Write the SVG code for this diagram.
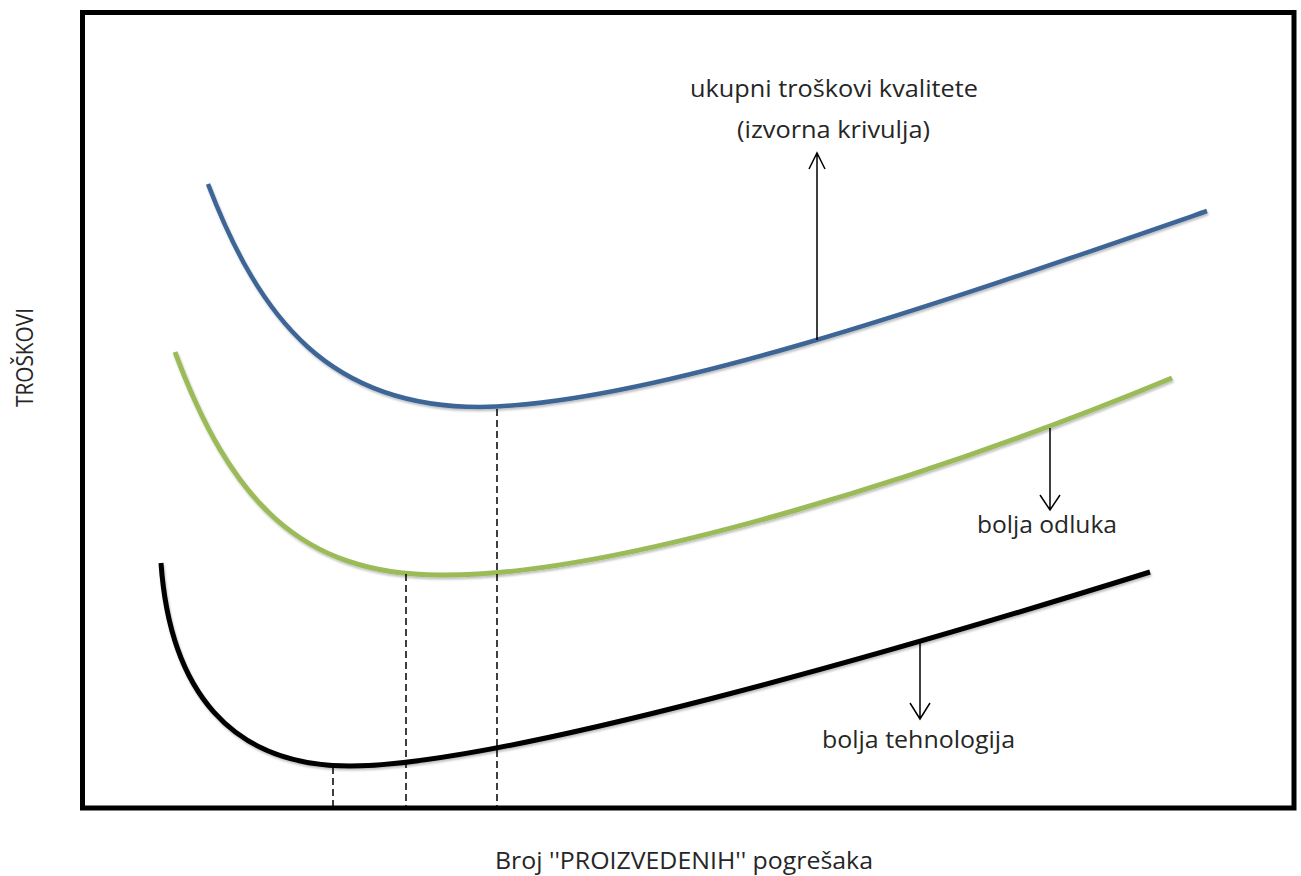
<svg xmlns="http://www.w3.org/2000/svg" width="1301" height="876" viewBox="0 0 1301 876">
<style>
.t{font-family:"Open Sans","Liberation Sans",sans-serif;font-size:23.5px;fill:#262626}
.dash{stroke:#000;stroke-width:1.5;stroke-dasharray:7 4;fill:none}
.arr{stroke:#000;stroke-width:1.5;fill:none}
.crv{fill:none;stroke-linecap:butt}
</style>
<defs>
<filter id="sh" x="-5%" y="-5%" width="110%" height="115%">
<feDropShadow dx="1" dy="2" stdDeviation="1.2" flood-color="#000" flood-opacity="0.25"/>
</filter>
</defs>
<rect width="1301" height="876" fill="#fff"/>
<g id="frame">
<rect x="82.5" y="12.5" width="1211.5" height="795.5" fill="none" stroke="#000" stroke-width="5"/>
</g>
<g id="curve-blue">
<path class="crv" filter="url(#sh)" stroke="#3c6595" stroke-width="4.5" d="M208,184 C260,320 330,407 480,407 C650,405 950,300 1207,211"/>
</g>
<g id="curve-green">
<path class="crv" filter="url(#sh)" stroke="#9bbb59" stroke-width="5" d="M175,352 C230,500 300,575 440,575 C620,577 950,470 1172,378"/>
</g>
<g id="curve-black">
<path class="crv" filter="url(#sh)" stroke="#000" stroke-width="5" d="M161,563 C170,690 230,766 350,766 C500,766 900,650 1150,572"/>
</g>
<g id="connectors">
<line class="dash" x1="333" y1="767" x2="333" y2="806"/>
<line class="dash" x1="406" y1="574" x2="406" y2="806"/>
<line class="dash" x1="497" y1="409" x2="497" y2="806"/>
<path class="arr" d="M817,340 V153 M809,169 L817,153 L825,169"/>
<path class="arr" d="M1050,428 V510 M1040,495 L1050,510 L1060,495"/>
<path class="arr" d="M920,643 V719 M910,703 L920,719 L930,703"/>
</g>
<g id="labels">
<text class="t" x="690" y="97" textLength="288" lengthAdjust="spacingAndGlyphs">ukupni troškovi kvalitete</text>
<text class="t" x="737" y="138" textLength="193" lengthAdjust="spacingAndGlyphs">(izvorna krivulja)</text>
<text class="t" x="977" y="533" textLength="140" lengthAdjust="spacingAndGlyphs">bolja odluka</text>
<text class="t" x="822" y="748" textLength="193" lengthAdjust="spacingAndGlyphs">bolja tehnologija</text>
<text class="t" x="495" y="869" textLength="378" lengthAdjust="spacingAndGlyphs">Broj ''PROIZVEDENIH'' pogrešaka</text>
<text class="t" transform="translate(33,407) rotate(-90)" x="0" y="0" textLength="99" lengthAdjust="spacingAndGlyphs">TROŠKOVI</text>
</g>
</svg>
